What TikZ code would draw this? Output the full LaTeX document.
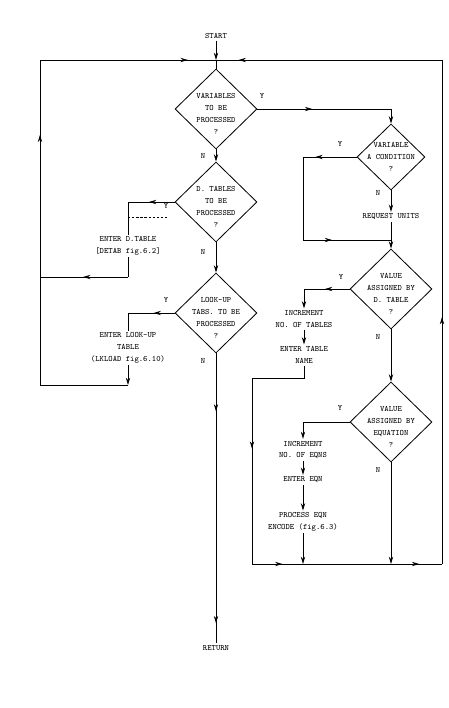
\documentclass[tikz,border=0pt]{standalone}
\usepackage{fontspec}
\usetikzlibrary{arrows.meta,shapes.geometric,decorations.markings}
\tikzset{
  flowln/.style={line width=0.7pt},
  flowarr/.style={flowln, -{Stealth[length=2.2mm,width=1.3mm]}},
  tipat/.style={postaction={decorate, decoration={markings,
      mark=at position #1 with {\arrow{Stealth[length=2.2mm,width=1.3mm]}}}}},
  chartxt/.style={font=\fontsize{7}{10.2}\selectfont\ttfamily, align=center, inner sep=1.5pt},
  decision/.style={chartxt, draw, line width=0.7pt, shape=diamond, inner sep=-6pt,
      text height=43pt, minimum width=2.46cm, minimum height=2.4cm},
  yn/.style={font=\fontsize{7}{8}\selectfont\ttfamily, inner sep=0pt},
}

\begin{document}
\begin{tikzpicture}[x=0.03cm, y=-0.03cm]
    \useasboundingbox (0,0) rectangle (448,708);
    % Main column
    \node[chartxt] (start) at (216,36) {START};
    \coordinate (top) at (216,60);
    \node[decision] (vars) at (216,109) {VARIABLES\\TO BE\\PROCESSED\\?};
    \node[decision] (dtab) at (216,202) {D. TABLES\\TO BE\\PROCESSED\\?};
    \node[decision] (lkup) at (216,313) {LOOK-UP\\TABS. TO BE\\PROCESSED\\?};
    \node[chartxt] (ret) at (216,648) {RETURN};
    % Left branches
    \node[chartxt] (entd) at (128,246) {ENTER D.TABLE\\{[}DETAB fig.6.2]};
    \node[chartxt] (entl) at (128,348) {ENTER LOOK-UP\\TABLE\\(LKLOAD fig.6.10)};
    % Right column
    \node[decision, text height=25.3pt, minimum width=2.04cm, minimum height=1.98cm]
      (cond) at (391,157) {VARIABLE\\A CONDITION\\?};
    \node[chartxt] (units) at (391,217) {REQUEST UNITS};
    \node[decision] (bytab) at (391,289) {VALUE\\ASSIGNED BY\\D. TABLE\\?};
    \node[chartxt] (inctab) at (304,319) {INCREMENT\\NO. OF TABLES};
    \node[chartxt] (nametab) at (304,355) {ENTER TABLE\\NAME};
    \node[decision] (byeqn) at (391,422) {VALUE\\ASSIGNED BY\\EQUATION\\?};
    \node[chartxt] (inceqn) at (303,450) {INCREMENT\\NO. OF EQNS};
    \node[chartxt] (eneqn) at (303,480) {ENTER EQN};
    \node[chartxt] (proc) at (303,522) {PROCESS EQN\\ENCODE (fig.6.3)};
    % Y / N labels
    \node[yn] (yvars) at (262,96) {Y};
    \node[yn] (nvars) at (203,156) {N};
    \node[yn] (ydtab) at (166,206) {Y};
    \node[yn] (ndtab) at (203,252) {N};
    \node[yn] (ylkup) at (166,300) {Y};
    \node[yn] (nlkup) at (203,361) {N};
    \node[yn] (ycond) at (340,144) {Y};
    \node[yn] (ncond) at (378,193) {N};
    \node[yn] (ybytab) at (341,277) {Y};
    \node[yn] (nbytab) at (378,337) {N};
    \node[yn] (ybyeqn) at (340,408) {Y};
    \node[yn] (nbyeqn) at (378,470) {N};
    % Loop corners
    \coordinate (tl) at (40,60);
    \coordinate (tr) at (442,60);
    \coordinate (bl) at (40,385);
    \coordinate (bj) at (252,564);
    \coordinate (br) at (442,564);
    % Main column flow
    \draw[flowarr] (start) -- (top);
    \draw[flowln] (top) -- (vars);
    \draw[flowarr] (vars) -- (dtab);
    \draw[flowarr] (dtab) -- (lkup);
    \draw[flowln, tipat=0.2, tipat=0.93] (lkup) -- (ret);
    % Left loop
    \draw[flowln, tipat=0.55] (dtab.west) -- (entd |- dtab.west);
    \draw[flowln] (entd |- dtab.west) -- (entd);
    \draw[flowln, dash pattern=on 2pt off 1.5pt] (128,217) -- (167,217);
    \draw[flowln] (entd) -- (128,277);
    \draw[flowln, tipat=0.51] (128,277) -- (40,277);
    \draw[flowln, tipat=0.45] (lkup.west) -- (entl |- lkup.west);
    \draw[flowln] (entl |- lkup.west) -- (entl);
    \draw[flowarr] (entl) -- (entl |- bl);
    \draw[flowln] (entl |- bl) -- (bl);
    \draw[flowln, tipat=0.77] (bl) -- (tl);
    \draw[flowln, tipat=0.84] (tl) -- (top);
    % Right column flow
    \draw[flowln, tipat=0.41] (vars.east) -- (cond |- vars.east);
    \draw[flowarr] (cond |- vars.east) -- (cond);
    \draw[flowln, tipat=0.77] (cond.west) -- (303,157);
    \draw[flowln] (303,157) -- (303,240);
    \draw[flowln, tipat=0.33] (303,240) -- (391,240);
    \draw[flowarr] (cond) -- (units);
    \draw[flowarr] (units) -- (bytab);
    \draw[flowln, tipat=0.54] (bytab.west) -- (inctab |- bytab.west);
    \draw[flowarr] (inctab |- bytab.west) -- (inctab);
    \draw[flowarr] (inctab) -- (nametab);
    \draw[flowln] (nametab) -- (304,378) -- (252,378);
    \draw[flowln, tipat=0.38] (252,378) -- (bj);
    \draw[flowarr] (bytab) -- (byeqn);
    \draw[flowln] (byeqn.west) -- (inceqn |- byeqn.west);
    \draw[flowarr] (inceqn |- byeqn.west) -- (inceqn);
    \draw[flowarr] (inceqn) -- (eneqn);
    \draw[flowarr] (eneqn) -- (proc);
    \draw[flowarr] (proc) -- (proc |- bj);
    \draw[flowarr] (byeqn) -- (byeqn |- bj);
    % Return loop
    \draw[flowln, tipat=0.16, tipat=0.88] (bj) -- (br);
    \draw[flowln, tipat=0.49] (br) -- (tr);
    \draw[flowln, tipat=0.9] (tr) -- (top);
  \end{tikzpicture}
\end{document}
